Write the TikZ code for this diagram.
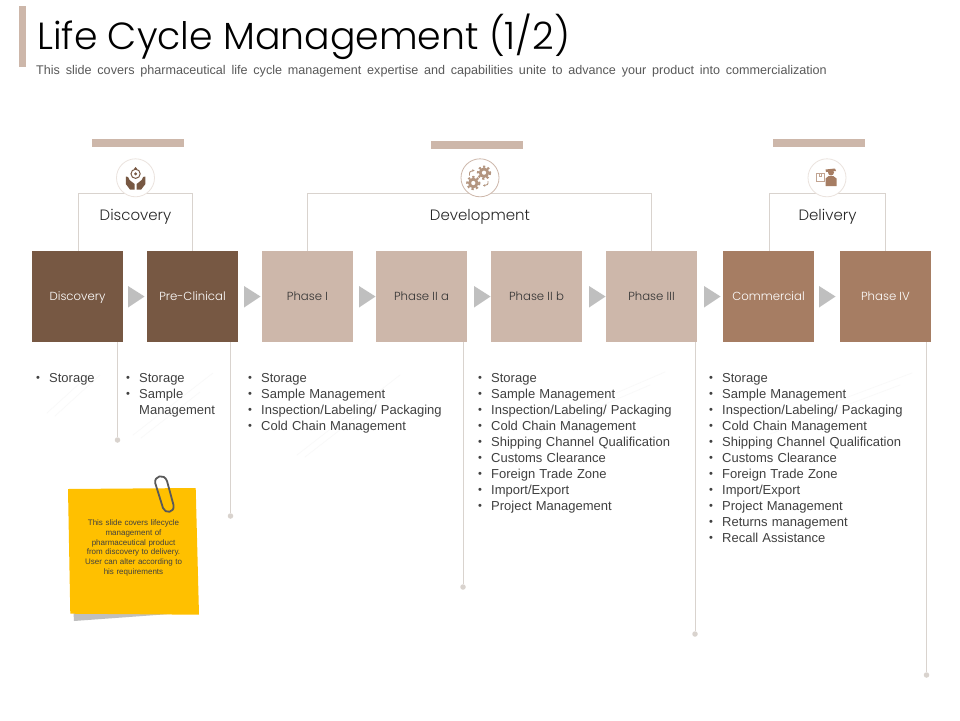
\documentclass[tikz,border=0pt]{standalone}
\usepackage{fontspec}
\usetikzlibrary{arrows.meta}
\setmainfont{Liberation Sans}[WordSpace=1.15]
\newfontfamily\subfont{Liberation Sans}[WordSpace=1.65]
\newfontfamily\gothic{Poppins Light}
\definecolor{darkbrown}{HTML}{775843}
\definecolor{midbrown}{HTML}{A67D63}
\definecolor{tanbrown}{HTML}{CDB7AA}
\definecolor{gearbrown}{HTML}{B39580}
\definecolor{ruleline}{HTML}{D9D3CE}
\definecolor{ringa}{HTML}{EBE3DE}
\definecolor{ringb}{HTML}{CDB7AA}
\definecolor{txt}{HTML}{404040}
\definecolor{subtxt}{HTML}{595959}
\definecolor{tri}{HTML}{BFBFBF}
\definecolor{notefill}{HTML}{FFC000}
\definecolor{faint}{HTML}{F9F9F9}
\tikzset{
 x=1pt,y=-1pt,
 phasebox/.style={minimum width=91pt,minimum height=91pt,inner sep=0pt,draw=none,text height=10pt,text depth=2pt,font=\gothic\fontsize{11.7}{13}\selectfont},
 darkbox/.style={phasebox,fill=darkbrown,text=white},
 lightbox/.style={phasebox,fill=tanbrown,text=black!80},
 delbox/.style={phasebox,fill=midbrown,text=white},
 nexttri/.style={fill=tri,draw=none},
 bracket/.style={draw=ruleline,line width=0.8pt},
 drop/.style={draw=ruleline,line width=0.9pt},
 dropdot/.style={circle,fill=ruleline,minimum size=5.5pt,inner sep=0pt},
 headbar/.style={fill=tanbrown,draw=none,minimum width=92pt,minimum height=8pt,inner sep=0pt},
 iconring/.style={circle,draw=#1,fill=white,line width=0.8pt,minimum size=38pt,inner sep=0pt},
 grouplabel/.style={font=\gothic\fontsize{15}{18}\selectfont,text=black!85},
 listtext/.style={anchor=north west,align=left,inner sep=0pt,text=txt,font=\fontsize{13}{16}\selectfont},
 faintline/.style={draw=faint,line width=0.7pt},
}
\newcommand{\bl}{\makebox[13pt][l]{\raisebox{0.5pt}{\scalebox{0.85}{•}}}}
\newcommand{\ind}{\hspace*{13pt}}
\newcommand{\gearicon}[2]{%
  \fill[gearbrown] (#1,#2) circle (5.3);
  \draw[gearbrown,line width=2pt,dash pattern=on 2.2pt off 2.4pt] (#1,#2) circle (6.1);
  \fill[white] (#1,#2) circle (2.1);}
\begin{document}
\begin{tikzpicture}
\useasboundingbox (0,0) rectangle (960,720);
\fill[white] (0,0) rectangle (960,720);
% title
\fill[tanbrown] (19,6) rectangle (26,67);
\node[anchor=base west,inner sep=0pt,font=\gothic\fontsize{37.8}{40}\selectfont,text=black] (title) at (37,49.5) {Life Cycle Management (1/2)};
\node[anchor=base west,inner sep=0pt,font=\subfont\fontsize{12.6}{14}\selectfont,text=subtxt] (subtitle) at (36,74) {This slide covers pharmaceutical life cycle management expertise and capabilities unite to advance your product into commercialization};
% faint diagonals
\foreach \xa/\ya/\xb/\yb in {47/413/92/372, 55/416/100/375, 133/435/213/373, 141/438/200/392, 297/455/400/375, 305/457/385/395, 530/430/665/372, 540/432/650/385, 760/430/912/373, 770/434/900/385}
  \draw[faintline] (\xa,\ya) -- (\xb,\yb);
% boxes
\node[darkbox] (b1) at (77.5,296.5) {Discovery};
\node[darkbox] (b2) at (192.5,296.5) {Pre-Clinical};
\node[lightbox] (b3) at (307.5,296.5) {Phase I};
\node[lightbox] (b4) at (421.5,296.5) {Phase II a};
\node[lightbox] (b5) at (536.5,296.5) {Phase II b};
\node[lightbox] (b6) at (651.5,296.5) {Phase III};
\node[delbox] (b7) at (768.5,296.5) {Commercial};
\node[delbox] (b8) at (885.5,296.5) {Phase IV};
% triangles
\foreach \xx in {128,244,359,474,589,704,819}
  \fill[nexttri] (\xx,286) -- (\xx+16.5,296.5) -- (\xx,307.5) -- cycle;
% brackets
\draw[bracket] ([xshift=1pt]b1.north) -- ++(0,-57.8) -| (b2.north);
\draw[bracket] (b3.north) -- ++(0,-57.8) -| (b6.north);
\draw[bracket] ([xshift=0.5pt]b7.north) -- ++(0,-57.8) -| (b8.north);
\node[grouplabel] (g1) at (135.5,216.5) {Discovery};
\node[grouplabel] (g2) at (480,216.5) {Development};
\node[grouplabel] (g3) at (827.5,216.5) {Delivery};
% bars
\node[headbar] (h1) at (138,143) {};
\node[headbar] (h2) at (477,144.5) {};
\node[headbar] (h3) at (819,143) {};
% rings
\node[iconring=ringa] (r1) at (135.5,177.8) {};
\node[iconring=ringb] (r2) at (480,177.8) {};
\node[iconring=ringa] (r3) at (827,177.8) {};
% hands icon
\draw[darkbrown,line width=1pt] (135.6,173.8) circle (4.6);
\fill[darkbrown] (135.6,173.8) circle (1.6);
\fill[darkbrown] (135.6,167) -- (137.4,169.2) -- (133.8,169.2) -- cycle;
\fill[darkbrown] (125.8,176.5) -- (128,177) -- (129.5,180) -- (134.6,184) -- (134.6,189.5) -- (130,189.5) -- (125.8,184) -- cycle;
\fill[darkbrown] (145.4,176.5) -- (143.2,177) -- (141.7,180) -- (136.6,184) -- (136.6,189.5) -- (141.2,189.5) -- (145.4,184) -- cycle;
% gears icon
\gearicon{484}{172.7}
\gearicon{473.3}{183}
\draw[gearbrown,line width=0.9pt,-{Stealth[length=2.2pt,width=2.6pt]}] (469.5,175.5) .. controls (469,172) and (470.5,170.5) .. (474.5,170.5);
\draw[gearbrown,line width=0.9pt,-{Stealth[length=2.2pt,width=2.6pt]}] (488,181) .. controls (488.5,184.5) and (487,185.5) .. (483,185.5);
% delivery icon
\draw[midbrown!70,line width=0.8pt] (816.5,173) rectangle (824.5,181.5);
\draw[midbrown!70,line width=0.8pt] (819.5,173) -- (819.5,176) -- (821.5,176) -- (821.5,173);
\fill[midbrown] (831,172.5) circle (3);
\fill[midbrown] (825.5,169.5) -- (835,168.5) -- (836,171) -- (826,172) -- cycle;
\fill[midbrown] (825.5,186) -- (825.5,178.5) -- (828.5,176.2) -- (833.5,176.2) -- (836.5,178.5) -- (836.5,186) -- cycle;
% drops
\node[dropdot] (d1) at (117.5,440) {};
\node[dropdot] (d2) at (230.5,516) {};
\node[dropdot] (d3) at (463,587) {};
\node[dropdot] (d4) at (695,634) {};
\node[dropdot] (d5) at (926.5,675) {};
\draw[drop] (b1.south -| d1) -- (d1);
\draw[drop] (b2.south -| d2) -- (d2);
\draw[drop] (b4.south -| d3) -- (d3);
\draw[drop] (b6.south -| d4) -- (d4);
\draw[drop] (b8.south -| d5) -- (d5);
% lists
\node[listtext] (l1) at (36,373) {\bl Storage};
\node[listtext] (l2) at (126,373) {\bl Storage\\\bl Sample\\\ind Management};
\node[listtext] (l3) at (248,373) {\bl Storage\\\bl Sample Management\\\bl Inspection/Labeling/ Packaging\\\bl Cold Chain Management};
\node[listtext] (l4) at (478,373) {\bl Storage\\\bl Sample Management\\\bl Inspection/Labeling/ Packaging\\\bl Cold Chain Management\\\bl Shipping Channel Qualification\\\bl Customs Clearance\\\bl Foreign Trade Zone\\\bl Import/Export\\\bl Project Management};
\node[listtext] (l5) at (709,373) {\bl Storage\\\bl Sample Management\\\bl Inspection/Labeling/ Packaging\\\bl Cold Chain Management\\\bl Shipping Channel Qualification\\\bl Customs Clearance\\\bl Foreign Trade Zone\\\bl Import/Export\\\bl Project Management\\\bl Returns management\\\bl Recall Assistance};
% sticky note
\fill[tri] (73.5,613) -- (74,621) -- (170,614) -- cycle;
\fill[notefill] (68,489) -- (195.7,488) -- (199,614.7) -- (70.3,613.7) -- cycle;
\node[align=center,inner sep=0pt,text=txt,font=\fontsize{8}{9.7}\selectfont] (notetext) at (133.5,548) {This slide covers lifecycle\\management of\\pharmaceutical product\\from discovery to delivery.\\User can alter according to\\his requirements};
% clip
\draw[black!65,line width=1.8pt,line cap=round,line join=round]
  (155.2,483) .. controls (154,476) and (164,473) .. (167,481) -- (173.5,505)
  .. controls (175,513) and (165,514) .. (163,508) -- cycle;
\end{tikzpicture}
\end{document}
